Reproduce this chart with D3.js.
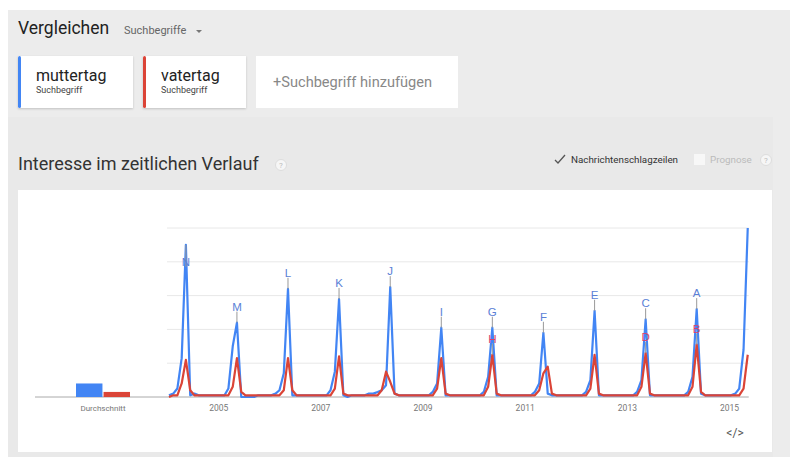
<!DOCTYPE html>
<html>
<head>
<meta charset="utf-8">
<script src="https://cdn.jsdelivr.net/npm/d3@7"></script>
<style>
  body { margin: 0; background: #fff; }
  svg { display: block; font-family: Roboto, "Open Sans", Arial, sans-serif; }
</style>
</head>
<body>
<svg></svg>
<script>
const width = 799;
const height = 461;

// monthly values, Jan 2004 .. May 2015
const muttertag = [
  1, 2, 5, 23, 90, 1, 2, 1, 1, 1, 1, 1,
  1, 1, 5, 30, 44, 0, 0, 0, 0, 1, 1, 1,
  1, 2, 4, 14, 64, 1, 1, 1, 1, 1, 1, 1,
  1, 1, 4, 15, 58, 1, 0, 1, 1, 1, 1, 2,
  2, 3, 4, 7, 65, 2, 1, 1, 1, 1, 1, 1,
  1, 1, 3, 8, 41, 1, 1, 1, 1, 1, 1, 1,
  1, 1, 3, 12, 41, 1, 1, 1, 1, 1, 1, 1,
  1, 1, 3, 8, 38, 2, 1, 1, 1, 1, 1, 1,
  1, 1, 3, 10, 51, 1, 1, 1, 1, 1, 1, 1,
  1, 1, 3, 10, 46, 1, 1, 1, 1, 1, 1, 1,
  1, 1, 3, 12, 52, 2, 1, 1, 1, 1, 1, 1,
  1, 2, 5, 28, 100
];
const vatertag = [
  0, 1, 1, 8, 22, 4, 1, 1, 1, 1, 1, 1,
  1, 1, 1, 6, 23, 3, 1, 1, 1, 1, 1, 1,
  1, 1, 1, 4, 23, 4, 1, 1, 1, 1, 1, 1,
  1, 1, 1, 5, 24, 2, 1, 1, 1, 1, 1, 1,
  1, 1, 4, 15, 9, 2, 1, 1, 1, 1, 1, 1,
  1, 1, 1, 5, 23, 2, 1, 1, 1, 1, 1, 1,
  1, 1, 1, 6, 25, 2, 1, 1, 1, 1, 1, 1,
  1, 1, 1, 4, 14, 18, 2, 1, 1, 1, 1, 1,
  1, 1, 1, 5, 25, 2, 1, 1, 1, 1, 1, 1,
  1, 1, 1, 6, 26, 2, 1, 1, 1, 1, 1, 1,
  1, 1, 1, 6, 31, 3, 1, 1, 1, 1, 1, 1,
  1, 1, 1, 5, 25
];
const terms = ['muttertag', 'vatertag'];
const averages = [8, 3];
const colors = ['#4285f4', '#db4437'];
const letterColors = ['#5b7fd6', '#d6436c'];
const yTicks = [0, 20, 40, 60, 80, 100];
const yearTicks = [2005, 2007, 2009, 2011, 2013, 2015];

// news headline markers: letter, year, month (1-12), series index
const markers = [
  ['N', 2004, 5, 0], ['M', 2005, 5, 0], ['L', 2006, 5, 0], ['K', 2007, 5, 0],
  ['J', 2008, 5, 0], ['I', 2009, 5, 0], ['H', 2010, 5, 1], ['G', 2010, 5, 0],
  ['F', 2011, 5, 0], ['E', 2012, 5, 0], ['D', 2013, 5, 1], ['C', 2013, 5, 0],
  ['B', 2014, 5, 1], ['A', 2014, 5, 0]
];

const svg = d3.select('svg').attr('width', width).attr('height', height);

function monthDate(i) {
  return new Date(2004, i, 15);
}

function drawPage() {
  svg.append('rect').attr('width', width).attr('height', height).attr('fill', '#fff');
  svg.append('rect').attr('x', 8).attr('y', 10).attr('width', 782).attr('height', 447).attr('fill', '#ececec');
  svg.append('rect').attr('x', 8).attr('y', 117).attr('width', 765).attr('height', 340).attr('fill', '#e9e9e9');

  svg.append('text').attr('x', 18).attr('y', 34).attr('font-size', 17.5).attr('fill', '#222').text('Vergleichen');
  svg.append('text').attr('x', 124).attr('y', 34).attr('font-size', 11).attr('fill', '#666').text('Suchbegriffe');
  svg.append('path').attr('d', 'M196,30 l6,0 l-3,3 z').attr('fill', '#777');

  const cards = [
    { x: 18, w: 115, term: terms[0], color: colors[0] },
    { x: 143, w: 103, term: terms[1], color: colors[1] }
  ];
  cards.forEach(c => {
    svg.append('rect').attr('x', c.x).attr('y', 56).attr('width', c.w).attr('height', 52)
      .attr('fill', '#fff').attr('filter', 'drop-shadow(0 1px 1px rgba(0,0,0,0.18))');
    svg.append('rect').attr('x', c.x).attr('y', 56).attr('width', 3).attr('height', 52)
      .attr('rx', 1.5).attr('fill', c.color);
    svg.append('text').attr('x', c.x + 18).attr('y', 81).attr('font-size', 16).attr('fill', '#222').text(c.term);
    svg.append('text').attr('x', c.x + 18).attr('y', 93).attr('font-size', 9).attr('fill', '#444').text('Suchbegriff');
  });
  svg.append('rect').attr('x', 256).attr('y', 56).attr('width', 202).attr('height', 52).attr('fill', '#fff');
  svg.append('text').attr('x', 273).attr('y', 87).attr('font-size', 14.6).attr('fill', '#888').text('+Suchbegriff hinzufügen');

  svg.append('text').attr('x', 18).attr('y', 170).attr('font-size', 18).attr('fill', '#333').text('Interesse im zeitlichen Verlauf');
  helpIcon(281, 165);

  // checkbox
  svg.append('path').attr('d', 'M555,160 l3,3 l7,-8').attr('fill', 'none').attr('stroke', '#555').attr('stroke-width', 1.3);
  svg.append('text').attr('x', 571).attr('y', 163).attr('font-size', 9.8).attr('fill', '#333').text('Nachrichtenschlagzeilen');
  svg.append('rect').attr('x', 694).attr('y', 154).attr('width', 11).attr('height', 11).attr('fill', '#f7f7f7');
  svg.append('text').attr('x', 710).attr('y', 163).attr('font-size', 9.8).attr('fill', '#bbb').text('Prognose');
  helpIcon(766, 160);

  svg.append('rect').attr('x', 18).attr('y', 190).attr('width', 754).attr('height', 262).attr('fill', '#fff');
  svg.append('text').attr('x', 735).attr('y', 437).attr('text-anchor', 'middle').attr('font-size', 12)
    .attr('fill', '#555').text('</>');
}

function helpIcon(cx, cy) {
  svg.append('circle').attr('cx', cx).attr('cy', cy).attr('r', 5.5).attr('fill', '#f6f6f6').attr('stroke', '#ddd');
  svg.append('text').attr('x', cx).attr('y', cy + 3).attr('text-anchor', 'middle').attr('font-size', 8)
    .attr('fill', '#bbb').text('?');
}

const xScale = d3.scaleTime()
  .domain([new Date(2004, 0, 1), new Date(2015, 0, 1)])
  .range([167, 729]);
const yScale = d3.scaleLinear().domain([0, 100]).range([397, 228]);
const barScale = d3.scaleBand().domain(terms).range([76, 130]).paddingInner(0.04);

function drawGrid() {
  const x0 = xScale(monthDate(0)) - 2;
  const x1 = xScale(monthDate(muttertag.length - 1)) + 1;
  svg.append('g').selectAll('line')
    .data(yTicks.slice(1))
    .enter()
    .append('line')
    .attr('x1', x0).attr('x2', x1)
    .attr('y1', d => yScale(d)).attr('y2', d => yScale(d))
    .attr('stroke', '#e8e8e8');
  svg.append('line').attr('x1', 35).attr('x2', x1)
    .attr('y1', yScale(0)).attr('y2', yScale(0)).attr('stroke', '#aaa');
}

function drawAverages() {
  svg.append('g').selectAll('rect')
    .data(terms)
    .enter()
    .append('rect')
    .attr('x', d => barScale(d))
    .attr('width', barScale.bandwidth())
    .attr('y', (d, i) => yScale(averages[i]))
    .attr('height', (d, i) => yScale(0) - yScale(averages[i]))
    .attr('fill', (d, i) => colors[i]);
  svg.append('text').attr('x', 103).attr('y', 411).attr('text-anchor', 'middle')
    .attr('font-size', 8).attr('fill', '#777').text('Durchschnitt');
}

function drawLines() {
  const line = d3.line()
    .x((d, i) => xScale(monthDate(i)))
    .y(d => yScale(d));
  [muttertag, vatertag].forEach((series, k) => {
    svg.append('path')
      .datum(series)
      .attr('d', line)
      .attr('fill', 'none')
      .attr('stroke', colors[k])
      .attr('stroke-width', 2.2)
      .attr('stroke-linejoin', 'round');
  });
}

function drawMarkers() {
  const series = [muttertag, vatertag];
  const g = svg.append('g');
  markers.forEach(([letter, year, month, k]) => {
    const i = (year - 2004) * 12 + month - 1;
    const v = series[k][i];
    const x = xScale(monthDate(i));
    const ly = Math.max(yScale(v) - 16, yScale(80));
    g.append('line').attr('x1', x).attr('x2', x)
      .attr('y1', yScale(v)).attr('y2', ly + 5)
      .attr('stroke', '#999').attr('stroke-width', 1);
  });
  markers.forEach(([letter, year, month, k]) => {
    const i = (year - 2004) * 12 + month - 1;
    const v = series[k][i];
    const x = xScale(monthDate(i));
    const ly = Math.max(yScale(v) - 16, yScale(80));
    g.append('text').attr('x', x).attr('y', ly + 4).attr('text-anchor', 'middle')
      .attr('font-size', 11.5).attr('font-family', 'Arial, "Liberation Sans", sans-serif')
      .attr('fill', letterColors[k]).text(letter);
  });
}

function generateAxes() {
  const xAxis = d3.axisBottom(xScale)
    .tickValues(yearTicks.map(y => new Date(y, 0, 1)))
    .tickFormat(d3.timeFormat('%Y'))
    .tickSize(0)
    .tickPadding(8);
  const ax = svg.append('g')
    .attr('transform', 'translate(0, ' + yScale(0) + ')')
    .call(xAxis);
  ax.select('.domain').remove();
  ax.selectAll('text').attr('font-size', 8.5).attr('fill', '#777')
    .attr('font-family', 'Roboto, Arial, sans-serif');
}

drawPage();
drawGrid();
drawAverages();
drawLines();
drawMarkers();
generateAxes();
</script>
</body>
</html>
